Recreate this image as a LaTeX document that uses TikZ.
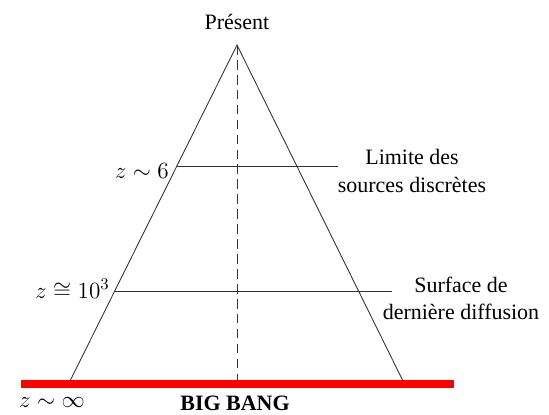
\RequirePackage{fix-cm}
\documentclass[tikz,border=0pt]{standalone}
\usepackage{fontspec}
\setmainfont{Liberation Serif}
\begin{document}
\begin{tikzpicture}[x=0.02cm,y=-0.02cm,
  txt/.style={align=center, inner sep=0pt, font=\fontsize{12.5}{15.4}\selectfont},
  zlab/.style={inner sep=0pt, font=\fontsize{13.2}{16}\selectfont},
  thin line/.style={black!80, line width=0.5pt}]
\useasboundingbox (0,0) rectangle (549,414);
\coordinate (apex) at (237,45);
\coordinate (bl) at (70,381);
\coordinate (br) at (403,381);
\coordinate (base) at (237,381);
\coordinate (bbl) at (21,384);
\coordinate (bbr) at (454,384);
\coordinate (l6) at (177,166);
\coordinate (r6) at (338,166);
\coordinate (lcmb) at (115,291);
\coordinate (rcmb) at (392,291);

\node[txt] (present) at (237,22) {Présent};
\node[txt] (limite) at (412,171) {Limite des\\sources discrètes};
\node[txt] (surface) at (461,298) {Surface de\\dernière diffusion};
\node[txt, font=\fontsize{12.5}{15}\selectfont\bfseries] (bigbang) at (235,403) {BIG BANG};
\node[zlab, anchor=base east] (z6) at (169,178) {$z\sim6$};
\node[zlab, anchor=base east] (zcmb) at (110,298) {$z\cong10^3$};
\node[zlab] (zinf) at (52,402) {$z\sim\infty$};

\draw[thin line] (bl) -- (apex) -- (br);
\draw[thin line, dash pattern=on 5.5pt off 3pt] (apex) -- (base);
\draw[thin line] (l6) -- (r6);
\draw[thin line] (lcmb) -- (rcmb);
\draw[red, line width=0.16cm] (bbl) -- (bbr);
\end{tikzpicture}
\end{document}
